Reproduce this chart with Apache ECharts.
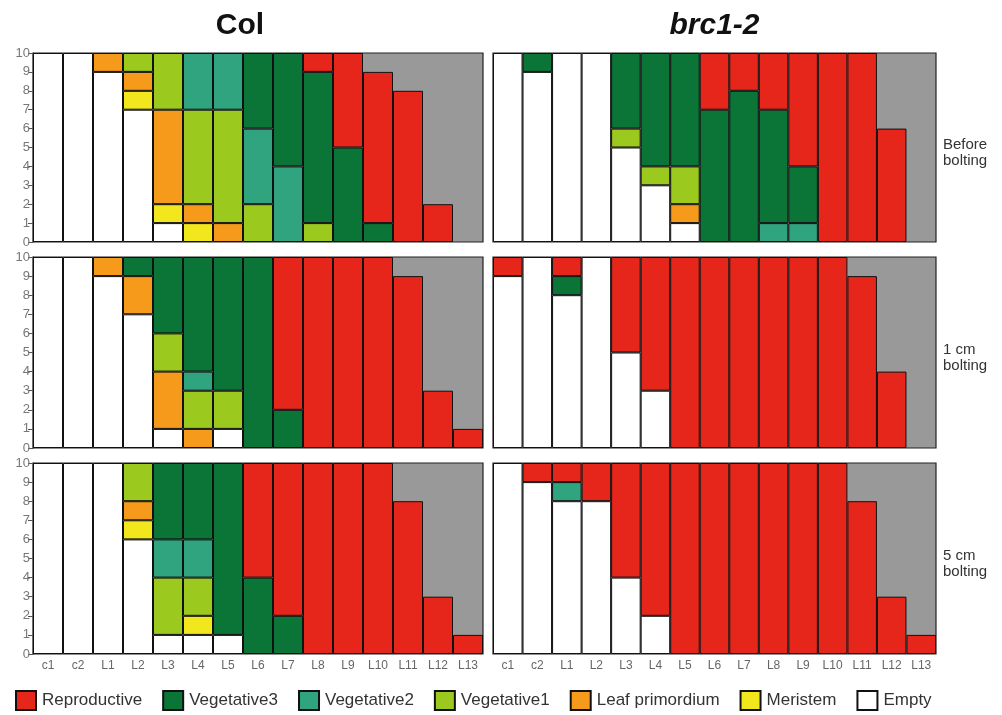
<!DOCTYPE html>
<html>
<head>
<meta charset="utf-8">
<script src="https://cdn.jsdelivr.net/npm/echarts@6/dist/echarts.min.js"></script>
<style>
html,body{margin:0;padding:0;background:#fff;}
#chart{width:1002px;height:715px;}
</style>
</head>
<body>
<div id="chart"></div>
<script>
// ---- Data ----
const categories = ['c1','c2','L1','L2','L3','L4','L5','L6','L7','L8','L9','L10','L11','L12','L13'];
const classNames = ['Empty','Meristem','Leaf primordium','Vegetative1','Vegetative2','Vegetative3','Reproductive'];
const legendOrder = ['Reproductive','Vegetative3','Vegetative2','Vegetative1','Leaf primordium','Meristem','Empty'];
const yTicks = [0,1,2,3,4,5,6,7,8,9,10];
const columnTitles = ['Col','brc1-2'];
const rowLabels = ['Before\nbolting','1 cm\nbolting','5 cm\nbolting'];

// Col, before bolting (bottom -> top: Empty, Meristem, Leaf primordium, Veg1, Veg2, Veg3, Reproductive)
const colBefore_Empty = [10,10,9,7,1,0,0,0,0,0,0,0,0,0,0];
const colBefore_Mer   = [0,0,0,1,1,1,0,0,0,0,0,0,0,0,0];
const colBefore_LP    = [0,0,1,1,5,1,1,0,0,0,0,0,0,0,0];
const colBefore_V1    = [0,0,0,1,3,5,6,2,0,1,0,0,0,0,0];
const colBefore_V2    = [0,0,0,0,0,3,3,4,4,0,0,0,0,0,0];
const colBefore_V3    = [0,0,0,0,0,0,0,4,6,8,5,1,0,0,0];
const colBefore_R     = [0,0,0,0,0,0,0,0,0,1,5,8,8,2,0];

// brc1-2, before bolting
const brcBefore_Empty = [10,9,10,10,5,3,1,0,0,0,0,0,0,0,0];
const brcBefore_Mer   = [0,0,0,0,0,0,0,0,0,0,0,0,0,0,0];
const brcBefore_LP    = [0,0,0,0,0,0,1,0,0,0,0,0,0,0,0];
const brcBefore_V1    = [0,0,0,0,1,1,2,0,0,0,0,0,0,0,0];
const brcBefore_V2    = [0,0,0,0,0,0,0,0,0,1,1,0,0,0,0];
const brcBefore_V3    = [0,1,0,0,4,6,6,7,8,6,3,0,0,0,0];
const brcBefore_R     = [0,0,0,0,0,0,0,3,2,3,6,10,10,6,0];

// Col, 1 cm bolting
const col1_Empty = [10,10,9,7,1,0,1,0,0,0,0,0,0,0,0];
const col1_Mer   = [0,0,0,0,0,0,0,0,0,0,0,0,0,0,0];
const col1_LP    = [0,0,1,2,3,1,0,0,0,0,0,0,0,0,0];
const col1_V1    = [0,0,0,0,2,2,2,0,0,0,0,0,0,0,0];
const col1_V2    = [0,0,0,0,0,1,0,0,0,0,0,0,0,0,0];
const col1_V3    = [0,0,0,1,4,6,7,10,2,0,0,0,0,0,0];
const col1_R     = [0,0,0,0,0,0,0,0,8,10,10,10,9,3,1];

// brc1-2, 1 cm bolting
const brc1_Empty = [9,10,8,10,5,3,0,0,0,0,0,0,0,0,0];
const brc1_Mer   = [0,0,0,0,0,0,0,0,0,0,0,0,0,0,0];
const brc1_LP    = [0,0,0,0,0,0,0,0,0,0,0,0,0,0,0];
const brc1_V1    = [0,0,0,0,0,0,0,0,0,0,0,0,0,0,0];
const brc1_V2    = [0,0,0,0,0,0,0,0,0,0,0,0,0,0,0];
const brc1_V3    = [0,0,1,0,0,0,0,0,0,0,0,0,0,0,0];
const brc1_R     = [1,0,1,0,5,7,10,10,10,10,10,10,9,4,0];

// Col, 5 cm bolting
const col5_Empty = [10,10,10,6,1,1,1,0,0,0,0,0,0,0,0];
const col5_Mer   = [0,0,0,1,0,1,0,0,0,0,0,0,0,0,0];
const col5_LP    = [0,0,0,1,0,0,0,0,0,0,0,0,0,0,0];
const col5_V1    = [0,0,0,2,3,2,0,0,0,0,0,0,0,0,0];
const col5_V2    = [0,0,0,0,2,2,0,0,0,0,0,0,0,0,0];
const col5_V3    = [0,0,0,0,4,4,9,4,2,0,0,0,0,0,0];
const col5_R     = [0,0,0,0,0,0,0,6,8,10,10,10,8,3,1];

// brc1-2, 5 cm bolting
const brc5_Empty = [10,9,8,8,4,2,0,0,0,0,0,0,0,0,0];
const brc5_Mer   = [0,0,0,0,0,0,0,0,0,0,0,0,0,0,0];
const brc5_LP    = [0,0,0,0,0,0,0,0,0,0,0,0,0,0,0];
const brc5_V1    = [0,0,0,0,0,0,0,0,0,0,0,0,0,0,0];
const brc5_V2    = [0,0,1,0,0,0,0,0,0,0,0,0,0,0,0];
const brc5_V3    = [0,0,0,0,0,0,0,0,0,0,0,0,0,0,0];
const brc5_R     = [0,1,1,2,6,8,10,10,10,10,10,10,8,3,1];

// ---- Style ----
const classColors = {
  'Empty':'#ffffff',
  'Meristem':'#f2e61c',
  'Leaf primordium':'#f59a1b',
  'Vegetative1':'#9bc91e',
  'Vegetative2':'#2fa47e',
  'Vegetative3':'#0a7537',
  'Reproductive':'#e6261b'
};

const panels = [
  [colBefore_Empty,colBefore_Mer,colBefore_LP,colBefore_V1,colBefore_V2,colBefore_V3,colBefore_R],
  [brcBefore_Empty,brcBefore_Mer,brcBefore_LP,brcBefore_V1,brcBefore_V2,brcBefore_V3,brcBefore_R],
  [col1_Empty,col1_Mer,col1_LP,col1_V1,col1_V2,col1_V3,col1_R],
  [brc1_Empty,brc1_Mer,brc1_LP,brc1_V1,brc1_V2,brc1_V3,brc1_R],
  [col5_Empty,col5_Mer,col5_LP,col5_V1,col5_V2,col5_V3,col5_R],
  [brc5_Empty,brc5_Mer,brc5_LP,brc5_V1,brc5_V2,brc5_V3,brc5_R]
];

const colLeft = [33, 493];
const colWidth = [450, 443];
const rowTop = [53, 257, 463];
const rowHeight = [189, 191, 191];

const grids = [], xAxes = [], yAxes = [], series = [];
panels.forEach((panel, p) => {
  const r = Math.floor(p / 2), c = p % 2;
  grids.push({
    left: colLeft[c], top: rowTop[r], width: colWidth[c], height: rowHeight[r],
    show: true, backgroundColor: '#999999', borderColor: '#222', borderWidth: 1.2
  });
  xAxes.push({
    type: 'category', gridIndex: p, data: categories,
    axisLine: {show: false}, axisTick: {show: false},
    axisLabel: {show: r === 2, color: '#666', fontSize: 12, margin: 6, interval: 0,
      fontFamily: 'Liberation Sans, Arial, sans-serif'},
    splitLine: {show: false}
  });
  yAxes.push({
    type: 'value', gridIndex: p, min: 0, max: 10, interval: 1,
    axisLine: {show: c === 0, lineStyle: {color: '#222', width: 1.2}},
    axisTick: {show: c === 0, length: 5, lineStyle: {color: '#555'}},
    axisLabel: {show: c === 0, color: '#777', fontSize: 13, margin: 3,
      fontFamily: 'Liberation Sans, Arial, sans-serif',
      formatter: v => yTicks.includes(v) ? String(v) : ''},
    splitLine: {show: false}
  });
  panel.forEach((vals, k) => {
    const name = classNames[k];
    series.push({
      type: 'bar', name: name, stack: 'p' + p,
      xAxisIndex: p, yAxisIndex: p,
      barCategoryGap: '0%', barGap: '0%',
      data: vals.map(v => v === 0 ? '-' : v),
      itemStyle: {color: classColors[name], borderColor: '#111', borderWidth: 1},
      emphasis: {disabled: true},
      animation: false
    });
  });
});

const graphics = [];
columnTitles.forEach((t, i) => {
  graphics.push({
    type: 'text', x: colLeft[i] + colWidth[i] / 2 - 18 + (i === 1 ? 18 : 0), y: 26,
    style: {text: t, fill: '#111',
      font: (i === 1 ? 'italic ' : '') + 'bold 30px "Liberation Sans", Arial, sans-serif',
      textAlign: 'center', textVerticalAlign: 'middle'}
  });
});
rowLabels.forEach((t, r) => {
  graphics.push({
    type: 'text', x: 943, y: rowTop[r] + rowHeight[r] / 2 + 5,
    style: {text: t, fill: '#333', font: '15px "Liberation Sans", Arial, sans-serif',
      textAlign: 'left', textVerticalAlign: 'middle', lineHeight: 16}
  });
});

const chart = echarts.init(document.getElementById('chart'), null, {renderer: 'canvas'});
chart.setOption({
  animation: false,
  backgroundColor: '#ffffff',
  grid: grids, xAxis: xAxes, yAxis: yAxes, series: series,
  graphic: graphics,
  legend: {
    data: legendOrder, left: 10, top: 685, icon: 'rect',
    itemWidth: 20, itemHeight: 19, itemGap: 20,
    selectedMode: false,
    textStyle: {color: '#333', fontSize: 17, fontFamily: 'Liberation Sans, Arial, sans-serif', padding: [0,0,0,1]}
  }
});
</script>
</body>
</html>
